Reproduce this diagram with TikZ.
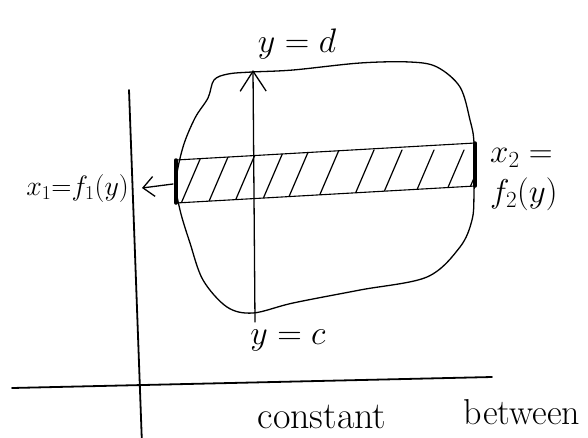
\RequirePackage{fix-cm}
\documentclass[tikz,border=0pt]{standalone}
\usetikzlibrary{arrows.meta}
\begin{document}
\begin{tikzpicture}[x=1pt,y=-1pt,line cap=round,line join=round,
 lbl/.style={inner sep=1pt,font=\fontsize{34}{40}\selectfont},
 txt/.style={inner sep=0pt,font=\fontsize{36}{40}\selectfont},
 stripend/.style={line width=3.5pt}]
 \useasboundingbox[fill=white] (0,0) rectangle (588,437);
 \coordinate (ox1) at (12,388); \coordinate (ox2) at (492,377);
 \coordinate (oy1) at (129,90); \coordinate (oy2) at (142,445);
 \draw[line width=1.8pt] (ox1)--(ox2);
 \draw[line width=1.8pt] (oy1)--(oy2);
 \draw[line width=1.3pt] plot[smooth cycle,tension=.55] coordinates {(214,80)(228,74)(252,72)(293,70)(360,63)(410,62)(437,67)(460,87)(470,120)(474,143)(474,193)(472,220)(460,247)(427,277)(360,290)(293,303)(253,313)(227,307)(203,280)(190,243)(180,210)(176,182)(183,147)(195,118)(208,98)};
 \coordinate (sa) at (176,160); \coordinate (sb) at (475,143);
 \coordinate (sc) at (475,186); \coordinate (sd) at (176,203);
 \begin{scope}
  \clip (sa)--(sb)--(sc)--(sd)--cycle;
  \foreach \x in {180,207,233,260,285,315,350,378,410,440,462}
   \draw[line width=1.2pt] (\x,206)--++(24,-56);
 \end{scope}
 \draw[line width=1.1pt] (sa)--(sb) (sd)--(sc);
 \draw[stripend] (sa)--(sd); \draw[stripend] (sb)--(sc);
 \node[lbl] (lyd) at (297,44) {$y=d$};
 \node[lbl] (lyc) at (288,340) {$y=c$};
 \node[lbl,font=\fontsize{28}{34}\selectfont,anchor=east] (lx1) at (130,188) {$x_1{=}f_1(y)$};
 \node[lbl,font=\fontsize{33}{40}\selectfont,anchor=west,align=left] (lx2) at (489,180) {$x_2=$\\$f_2(y)$};
 \node[txt,font=\fontsize{38}{42}\selectfont,anchor=base] (tc) at (322,428) {constant};
 \node[txt,anchor=base] (tb) at (522,424) {between};
 \coordinate (yc) at (255,322); \coordinate (yd) at (253,70);
 \draw[line width=1.3pt,-{Straight Barb[length=20pt,width=26pt]}] (yc)--(yd);
 \coordinate (sm) at (173,184);
 \draw[line width=1.3pt,-{Straight Barb[length=11pt,width=20pt]}] (sm)--([xshift=12pt]lx1.east);
\end{tikzpicture}
\end{document}
